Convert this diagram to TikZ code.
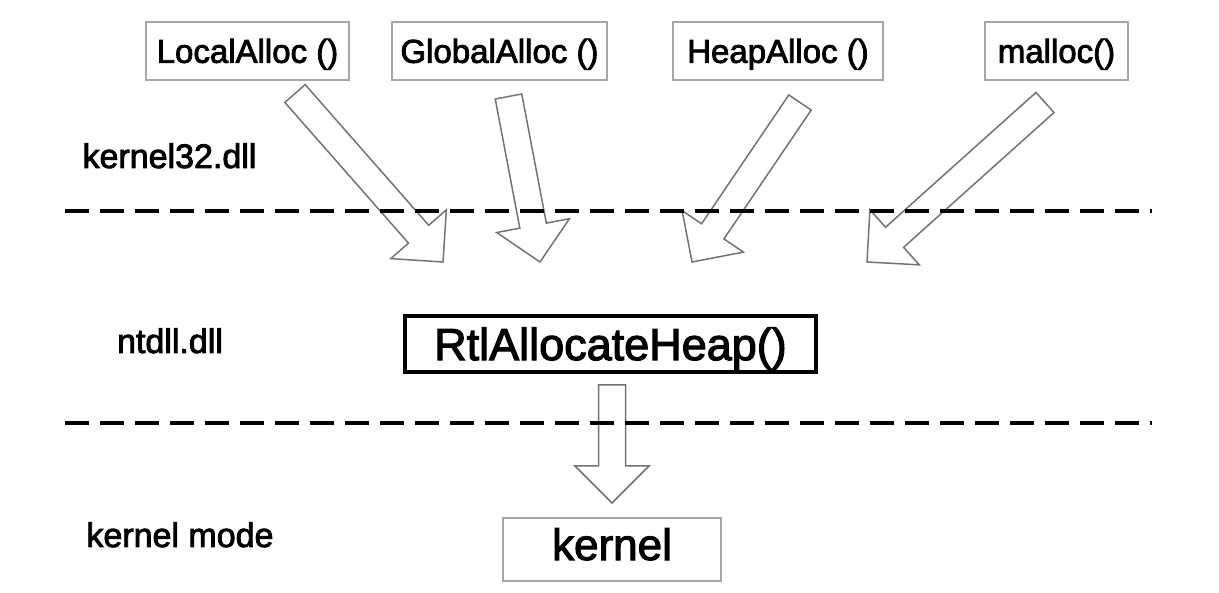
\documentclass[tikz,border=0pt]{standalone}
\usepackage{fontspec}
\setmainfont[FakeBold=2.5]{Liberation Sans}
\usetikzlibrary{calc}
\tikzset{
  fnbox/.style={draw=black!35, line width=1.3pt, minimum height=58pt, inner sep=0pt,
    font=\fontsize{33}{38}\selectfont, text height=23.6pt, text depth=0pt},
  mainbox/.style={draw=black, line width=4pt, minimum width=411pt, minimum height=56pt, inner sep=0pt,
    font=\fontsize{45}{50}\selectfont, text height=32.2pt, text depth=0pt},
  kernbox/.style={draw=black!35, line width=1.3pt, minimum width=218pt, minimum height=63pt, inner sep=0pt,
    font=\fontsize{44}{50}\selectfont, text height=31.5pt, text depth=10.5pt},
  layerlabel/.style={anchor=base, inner sep=0pt, font=\fontsize{34}{40}\selectfont},
  barrow/.style={draw=black!55, line width=1.5pt, fill=white, line join=miter},
  divider/.style={draw=black, line width=4pt, dash pattern=on 24pt off 11pt},
}
\newcommand\blockarrow[2]{%
  \path[barrow] let \p1=($(#2)-(#1)$), \n1={veclen(\x1,\y1)}, \n2={atan2(\y1,\x1)} in
    ($(#1)+({\n2+90}:13.5pt)$)
    -- ($(#1)+(\n2:{\n1-37pt})+({\n2+90}:13.5pt)$)
    -- ($(#1)+(\n2:{\n1-37pt})+({\n2+90}:37pt)$)
    -- (#2)
    -- ($(#1)+(\n2:{\n1-37pt})+({\n2-90}:37pt)$)
    -- ($(#1)+(\n2:{\n1-37pt})+({\n2-90}:13.5pt)$)
    -- ($(#1)+({\n2-90}:13.5pt)$)
    -- cycle;}
\begin{document}
\begin{tikzpicture}[x=1pt, y=-1pt]
\useasboundingbox (0,0) rectangle (1219,593);
% function boxes
\node[fnbox, minimum width=203pt] (la) at (247.5,51) {LocalAlloc ()};
\node[fnbox, minimum width=215pt] (ga) at (499.5,51) {GlobalAlloc ()};
\node[fnbox, minimum width=210pt] (ha) at (778,51) {HeapAlloc ()};
\node[fnbox, minimum width=143pt] (ma) at (1056.5,51) {malloc()};
\node[mainbox] (rtl) at (610.5,344) {RtlAllocateHeap()};
\node[kernbox] (kern) at (612,549.5) {kernel};
% layer labels
\node[layerlabel] (lk32) at (169.5,168) {kernel32.dll};
\node[layerlabel] (lnt) at (170,353) {ntdll.dll};
\node[layerlabel] (lkm) at (180,547) {kernel mode};
% arrow end points
\coordinate (a1s) at (295,93.5);  \coordinate (a1e) at (443,262);
\coordinate (a2s) at (508.5,96.5); \coordinate (a2e) at (540,262);
\coordinate (a3s) at (800,102.5); \coordinate (a3e) at (692,262);
\coordinate (a4s) at (1045,102.5); \coordinate (a4e) at (867,262);
\coordinate (a5s) at (612,385);   \coordinate (a5e) at (612,503);
\blockarrow{a1s}{a1e}
\blockarrow{a2s}{a2e}
\blockarrow{a3s}{a3e}
\blockarrow{a4s}{a4e}
\blockarrow{a5s}{a5e}
% layer dividers
\coordinate (d1s) at (65,211);  \coordinate (d1e) at (1152,211);
\coordinate (d2s) at (65,423);  \coordinate (d2e) at (1152,423);
\draw[divider] (d1s) -- (d1e);
\draw[divider] (d2s) -- (d2e);
\end{tikzpicture}
\end{document}
